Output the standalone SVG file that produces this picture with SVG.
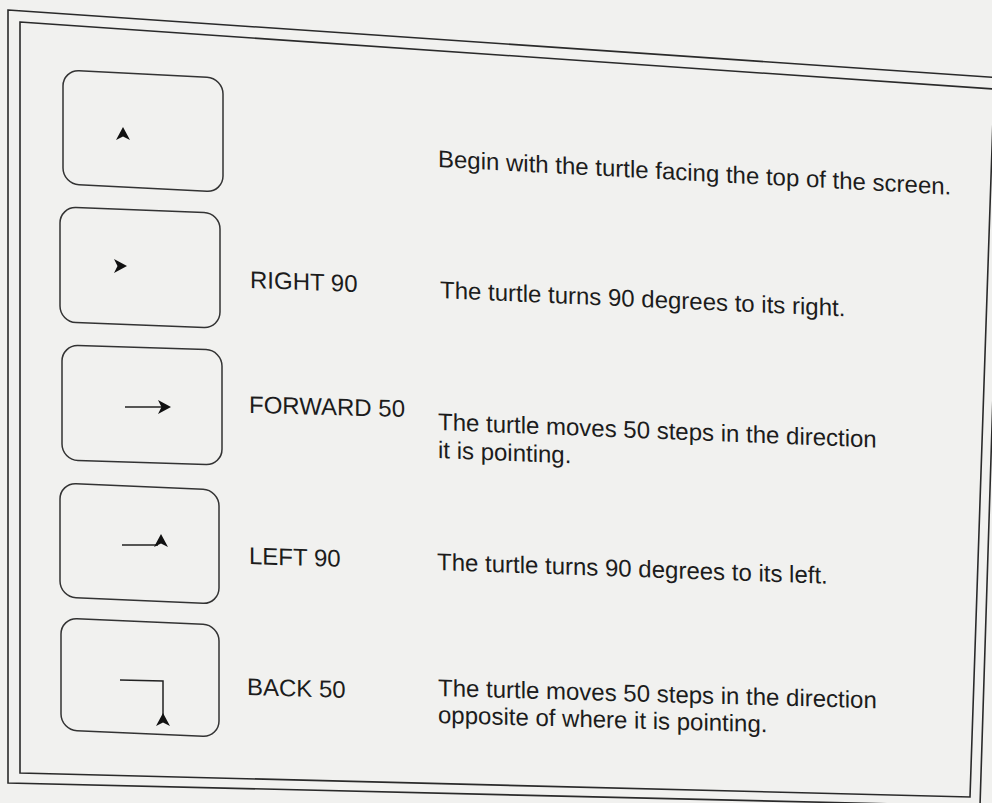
<svg xmlns="http://www.w3.org/2000/svg" width="992" height="803" viewBox="0 0 992 803">
<defs>
<style>
.frame{fill:none;stroke:#2a2a2a;stroke-width:1.6}
.box{fill:none;stroke:#333;stroke-width:1.5}
.trail{fill:none;stroke:#222;stroke-width:1.5}
.t{font-family:"Liberation Sans",Arial,Helvetica,sans-serif;font-size:24px;fill:#1c1c1c}
.turtle{fill:#111}
</style>
<path id="tu" d="M0,0 L7,13 L0,9.5 L-7,13 Z"/>
</defs>
<rect width="992" height="803" fill="#f1f1ef"/>
<g id="frame">
<polygon class="frame" points="8,10 1003,78 980,806 8,783"/>
<polygon class="frame" points="20,22 994,89 970,797 20,773" fill="#f6f6f4"/>
</g>
<g id="step1">
<rect class="box" x="0" y="0" width="160" height="114" rx="16" transform="matrix(1 0.05 0 1 63 70)"/>
<use href="#tu" class="turtle" transform="translate(123,127)"/>
<text class="t" transform="matrix(1 0.054 0 1 438 167)">Begin with the turtle facing the top of the screen.</text>
</g>
<g id="step2">
<rect class="box" x="0" y="0" width="160" height="115" rx="16" transform="matrix(1 0.038 0 1 60 207)"/>
<use href="#tu" class="turtle" transform="translate(127,266) rotate(90)"/>
<text class="t" transform="matrix(1 0.036 0 1 250 288)">RIGHT 90</text>
<text class="t" transform="matrix(1 0.045 0 1 440 298)">The turtle turns 90 degrees to its right.</text>
</g>
<g id="step3">
<rect class="box" x="0" y="0" width="160" height="115" rx="16" transform="matrix(1 0.032 0 1 62 345)"/>
<line class="trail" x1="125" y1="407" x2="163" y2="407"/>
<use href="#tu" class="turtle" transform="translate(171,407) rotate(90)"/>
<text class="t" transform="matrix(1 0.025 0 1 249 413)">FORWARD 50</text>
<text class="t" transform="matrix(1 0.04 0 1 438 430)">The turtle moves 50 steps in the direction</text>
<text class="t" transform="matrix(1 0.04 0 1 438 458)">it is pointing.</text>
</g>
<g id="step4">
<rect class="box" x="0" y="0" width="159" height="114" rx="16" transform="matrix(1 0.044 0 1 60 483)"/>
<line class="trail" x1="122" y1="545" x2="158" y2="545"/>
<use href="#tu" class="turtle" transform="translate(161,534)"/>
<text class="t" transform="matrix(1 0.03 0 1 249 564)">LEFT 90</text>
<text class="t" transform="matrix(1 0.035 0 1 437 570)">The turtle turns 90 degrees to its left.</text>
</g>
<g id="step5">
<rect class="box" x="0" y="0" width="158" height="112" rx="16" transform="matrix(1 0.044 0 1 61 618)"/>
<polyline class="trail" points="120,680 163,681 163,718"/>
<use href="#tu" class="turtle" transform="translate(163,713)"/>
<text class="t" transform="matrix(1 0.028 0 1 247 695)">BACK 50</text>
<text class="t" transform="matrix(1 0.028 0 1 438 696)">The turtle moves 50 steps in the direction</text>
<text class="t" transform="matrix(1 0.028 0 1 438 723)">opposite of where it is pointing.</text>
</g>
</svg>
